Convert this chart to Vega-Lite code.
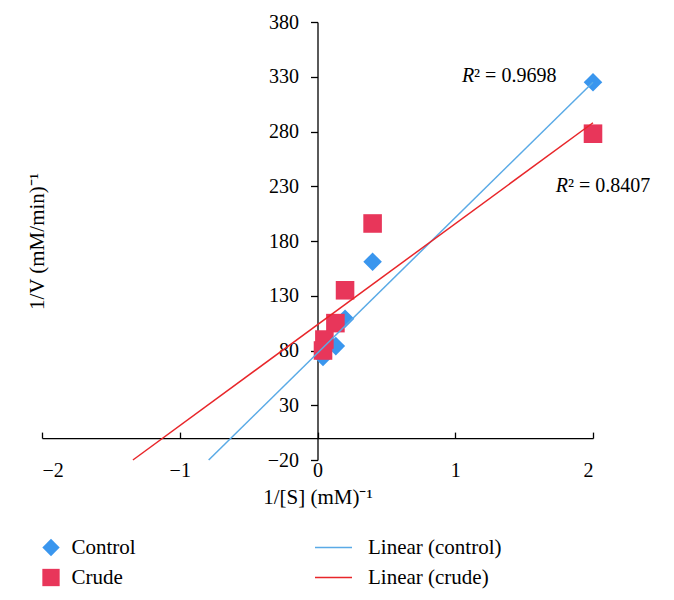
{
  "$schema": "https://vega.github.io/schema/vega-lite/v6.json",
  "width": 551,
  "height": 438,
  "autosize": "none",
  "padding": {"left": 42, "top": 22, "right": 81, "bottom": 140},
  "background": "white",
  "config": {
    "view": {"stroke": null},
    "font": "Liberation Serif",
    "axis": {"grid": false, "domainColor": "black", "tickColor": "black", "labelColor": "black", "titleColor": "black", "labelFont": "Liberation Serif", "titleFont": "Liberation Serif", "titleFontWeight": "normal", "domainWidth": 1.3, "tickWidth": 1.3},
    "legend": {"labelFont": "Liberation Serif", "labelColor": "black"}
  },
  "datasets": {
    "pts": [
      {"series": "Control", "s": 2, "v": 325},
      {"series": "Control", "s": 0.4, "v": 161},
      {"series": "Control", "s": 0.2, "v": 109},
      {"series": "Control", "s": 0.133, "v": 84},
      {"series": "Control", "s": 0.04, "v": 74},
      {"series": "Crude", "s": 2, "v": 278},
      {"series": "Crude", "s": 0.4, "v": 196},
      {"series": "Crude", "s": 0.2, "v": 135},
      {"series": "Crude", "s": 0.13, "v": 105},
      {"series": "Crude", "s": 0.05, "v": 90},
      {"series": "Crude", "s": 0.04, "v": 80}
    ],
    "lines": [
      {"trend": "Linear (control)", "s": -0.79, "v": -20},
      {"trend": "Linear (control)", "s": 2, "v": 325},
      {"trend": "Linear (crude)", "s": -1.34, "v": -20},
      {"trend": "Linear (crude)", "s": 2, "v": 288}
    ],
    "notes": [
      {"r": "R", "rest": "² = 0.9698", "s": 1.137, "v": 330.7},
      {"r": "R", "rest": "² = 0.8407", "s": 1.819, "v": 230.2}
    ]
  },
  "resolve": {"scale": {"color": "independent", "shape": "independent"}, "legend": {"color": "independent", "shape": "independent"}},
  "layer": [
    {
      "data": {"name": "pts"},
      "mark": {"type": "point", "filled": true, "opacity": 1, "size": 345},
      "encoding": {
        "x": {"field": "s", "type": "quantitative", "scale": {"domain": [-2, 2], "nice": false, "zero": false},
          "axis": {"orient": "bottom", "offset": -21.9, "values": [-2, -1, 0, 1, 2], "format": "d", "tickSize": -6, "labelPadding": 38, "labelBaseline": "middle", "labelFontSize": 20, "title": "1/[S] (mM)⁻¹", "titleFontSize": 21, "titleX": 275.5, "titleY": 59, "titleBaseline": "middle", "titleAnchor": null, "titleAlign": "center"}},
        "y": {"field": "v", "type": "quantitative", "scale": {"domain": [-20, 380], "nice": false, "zero": false},
          "axis": {"orient": "left", "offset": -275.5, "values": [-20, 30, 80, 130, 180, 230, 280, 330, 380], "format": "d", "tickSize": 7, "labelPadding": 12, "labelFontSize": 20, "title": "1/V (mM/min)⁻¹", "titleFontSize": 21, "titleX": -280, "titleY": 219, "titleAngle": -90, "titleBaseline": "middle", "titleAlign": "center", "titleAnchor": null}},
        "color": {"field": "series", "type": "nominal", "title": null,
          "scale": {"domain": ["Control", "Crude"], "range": ["#3a96ee", "#e8365a"]},
          "legend": {"orient": "none", "legendX": -1.5, "legendY": 515, "direction": "vertical", "rowPadding": 8, "padding": 0, "labelFontSize": 21, "labelOffset": 10, "symbolSize": 300, "symbolStrokeWidth": 0, "symbolOpacity": 1}},
        "shape": {"field": "series", "type": "nominal", "title": null,
          "scale": {"domain": ["Control", "Crude"], "range": ["diamond", "square"]},
          "legend": {"orient": "none", "legendX": -1.5, "legendY": 515, "direction": "vertical", "rowPadding": 8, "padding": 0, "labelFontSize": 21, "labelOffset": 10, "symbolSize": 300, "symbolStrokeWidth": 0, "symbolOpacity": 1}}
      }
    },
    {
      "data": {"name": "lines"},
      "mark": {"type": "line", "strokeWidth": 1.5},
      "encoding": {
        "x": {"field": "s", "type": "quantitative"},
        "y": {"field": "v", "type": "quantitative"},
        "color": {"field": "trend", "type": "nominal", "title": null,
          "scale": {"domain": ["Linear (control)", "Linear (crude)"], "range": ["#5aaae6", "#e8262a"]},
          "legend": {"orient": "none", "legendX": 272, "legendY": 506, "direction": "vertical", "rowPadding": -7, "padding": 0, "labelFontSize": 21, "labelOffset": 15, "symbolType": "stroke", "symbolSize": 1369, "symbolStrokeWidth": 1.5}}
      }
    },
    {
      "data": {"name": "notes"},
      "mark": {"type": "text", "align": "right", "baseline": "middle", "fontSize": 20, "fontStyle": "italic", "font": "Liberation Serif", "color": "black"},
      "encoding": {
        "x": {"field": "s", "type": "quantitative"},
        "y": {"field": "v", "type": "quantitative"},
        "text": {"field": "r"}
      }
    },
    {
      "data": {"name": "notes"},
      "mark": {"type": "text", "align": "left", "baseline": "middle", "fontSize": 20, "font": "Liberation Serif", "color": "black"},
      "encoding": {
        "x": {"field": "s", "type": "quantitative"},
        "y": {"field": "v", "type": "quantitative"},
        "text": {"field": "rest"}
      }
    }
  ]
}
